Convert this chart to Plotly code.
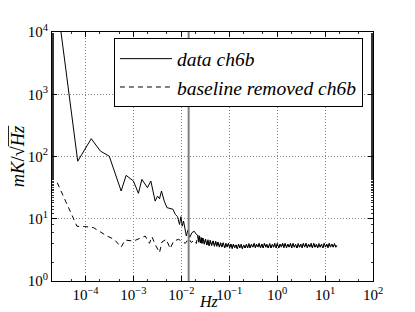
import plotly.graph_objects as go

# ---- data ----
low_freq = [2.57e-5, 6.87e-5, 1.315e-4, 2.05e-4, 3.13e-4, 5.54e-4, 7.04e-4, 1.0e-3,
            1.27e-3, 1.50e-3, 1.96e-3, 2.31e-3, 2.84e-3, 3.18e-3, 3.50e-3, 3.85e-3,
            4.39e-3, 5.0e-3, 6.67e-3, 7.45e-3, 8.32e-3, 9.16e-3, 9.81e-3, 1.045e-2,
            1.11e-2, 1.27e-2, 1.37e-2, 1.49e-2, 1.67e-2, 1.86e-2, 2.05e-2]
low_data = [29000, 84, 193, 122, 101, 27.9, 49.8, 40.3,
            25.6, 42.9, 31.6, 40.3, 19.2, 23.1, 21.0, 27.9,
            19.2, 15.1, 14.2, 11.8, 10.8, 8.1, 10.8, 7.6,
            9.2, 5.3, 6.6, 5.0, 6.0, 6.3, 5.6]

low_freq_bl = [2.57e-5, 6.64e-5, 9.6e-5, 1.46e-4, 2.78e-4, 3.95e-4, 5.54e-4, 6.7e-4,
               1.0e-3, 1.38e-3, 1.76e-3, 2.16e-3, 2.43e-3, 2.84e-3, 3.50e-3, 3.93e-3,
               4.83e-3, 5.86e-3, 6.87e-3, 8.74e-3, 1.08e-2, 1.21e-2, 1.42e-2, 1.61e-2,
               1.86e-2, 2.05e-2]
low_baseline = [37.9, 7.55, 7.5, 7.2, 5.3, 4.67, 3.5, 4.55,
                4.38, 4.79, 5.27, 4.03, 5.16, 3.88, 2.86, 4.23,
                4.67, 3.31, 4.38, 4.67, 4.23, 4.03, 4.79, 4.17,
                4.5, 4.0]

tail_freq = [0.022, 0.023, 0.024, 0.025, 0.026, 0.027, 0.028, 0.030, 0.032, 0.034,
             0.036, 0.038, 0.040, 0.043, 0.046, 0.049, 0.052, 0.055, 0.058, 0.062,
             0.066, 0.070, 0.075, 0.080, 0.085, 0.090, 0.096, 0.102, 0.108, 0.115,
             0.122, 0.130, 0.138, 0.147, 0.156, 0.166, 0.177, 0.188, 0.200, 0.213,
             0.227, 0.241, 0.257, 0.273, 0.290, 0.310, 0.330, 0.350, 0.370, 0.400,
             0.42, 0.45, 0.48, 0.51, 0.54, 0.58, 0.61, 0.65, 0.70, 0.74,
             0.79, 0.84, 0.89, 0.95, 1.01, 1.08, 1.15, 1.22, 1.30, 1.38,
             1.47, 1.57, 1.67, 1.77, 1.89, 2.01, 2.14, 2.28, 2.42, 2.58,
             2.74, 2.92, 3.11, 3.31, 3.52, 3.75, 3.99, 4.24, 4.52, 4.81,
             5.12, 5.45, 5.80, 6.17, 6.57, 6.99, 7.44, 7.92, 8.43, 8.97,
             9.55, 10.2, 10.8, 11.5, 12.2, 13.0, 13.9, 14.8, 15.7, 16.7,
             17.5]
tail_vals = [5.4, 4.2, 5.3, 4.1, 5.0, 4.0, 4.9, 3.9, 4.7, 3.8,
             4.6, 3.7, 4.5, 3.7, 4.4, 3.6, 4.3, 3.6, 4.2, 3.5,
             4.1, 3.5, 4.1, 3.4, 4.0, 3.5, 4.0, 3.4, 3.9, 3.3,
             3.9, 3.4, 3.8, 3.3, 3.9, 3.4, 3.9, 3.3, 3.8, 3.4,
             3.9, 3.4, 4.0, 3.4, 3.9, 3.5, 4.0, 3.4, 3.9, 3.5,
             4.0, 3.4, 3.9, 3.4, 4.0, 3.5, 3.9, 3.4, 4.0, 3.4,
             3.9, 3.5, 4.0, 3.4, 4.0, 3.4, 3.9, 3.5, 4.0, 3.4,
             4.0, 3.4, 3.9, 3.5, 4.0, 3.4, 4.0, 3.5, 3.9, 3.4,
             4.0, 3.5, 3.9, 3.4, 4.0, 3.5, 4.0, 3.4, 3.9, 3.5,
             4.0, 3.4, 4.0, 3.5, 3.9, 3.4, 4.0, 3.5, 3.9, 3.4,
             4.0, 3.5, 3.9, 3.4, 4.0, 3.5, 3.9, 3.5, 4.0, 3.5,
             3.7]

cutoff_freq = 0.0142
series_names = ["data ch6b", "baseline removed ch6b"]
x_tick_exps = [-4, -3, -2, -1, 0, 1, 2]
y_tick_exps = [0, 1, 2, 3, 4]
x_title = "<i>Hz</i>"
y_title = "<i>mK</i>/√<span style=\"text-decoration:overline\"><i>Hz</i></span>"

data_freq = low_freq + tail_freq
data_vals = low_data + tail_vals
bl_freq = low_freq_bl + tail_freq
bl_vals = low_baseline + tail_vals

FONT = "Liberation Serif"


def pow_labels(exps):
    return [10.0 ** e for e in exps], [
        "10<sup>%s</sup>" % (str(e).replace("-", "\u2212")) for e in exps]


fig = go.Figure()
fig.add_trace(go.Scatter(x=data_freq, y=data_vals, mode="lines", name=series_names[0],
                         line=dict(color="black", width=1), legendgroup="a"))
fig.add_trace(go.Scatter(x=bl_freq, y=bl_vals, mode="lines", name=series_names[1],
                         line=dict(color="black", width=1, dash="5px,4px"), legendgroup="b"))

fig.add_shape(type="line", xref="x", yref="paper", x0=cutoff_freq, x1=cutoff_freq,
              y0=0, y1=1, line=dict(color="#808080", width=2), layer="above")

axis_common = dict(
    type="log", automargin=False,
    showline=True, linecolor="black", linewidth=1, mirror="allticks",
    ticks="inside", ticklen=5, tickcolor="black", tickwidth=1,
    showgrid=True, gridcolor="#808080", griddash="1px,2px", gridwidth=1,
    zeroline=False,
    tickfont=dict(family=FONT, size=15, color="black"),
    minor=dict(ticks="inside", ticklen=2, tickcolor="#333333", tickwidth=0.6,
               showgrid=False),
)

xtv, xtt = pow_labels(x_tick_exps)
ytv, ytt = pow_labels(y_tick_exps)

fig.update_xaxes(**axis_common, range=[-4.70, 2], tickvals=xtv, ticktext=xtt)
fig.update_yaxes(**axis_common, range=[0, 4], tickvals=ytv, ticktext=ytt,
                 title=dict(text=y_title,
                            font=dict(family=FONT, size=18.5, color="black")))

# x-axis title placed just below the tick labels, at the bottom of the figure
fig.add_annotation(text=x_title, xref="paper", yref="paper", x=0.5, y=0,
                   xanchor="center", yanchor="bottom", yshift=-30, xshift=-4,
                   showarrow=False, borderpad=0,
                   font=dict(family=FONT, size=16, color="black"))

# page body has an 8px default margin, so the figure is 8px smaller and shifted
fig.update_layout(
    width=407, height=304,
    margin=dict(l=44, r=42, t=24, b=30.5),
    paper_bgcolor="white", plot_bgcolor="white",
    showlegend=True,
    legend=dict(x=0.193, y=0.974, xanchor="left", yanchor="top",
                bgcolor="white", bordercolor="black", borderwidth=1,
                font=dict(family=FONT, size=19.5, color="black", style="italic"),
                itemwidth=52, tracegroupgap=0),
)

fig.write_html("out.html")
